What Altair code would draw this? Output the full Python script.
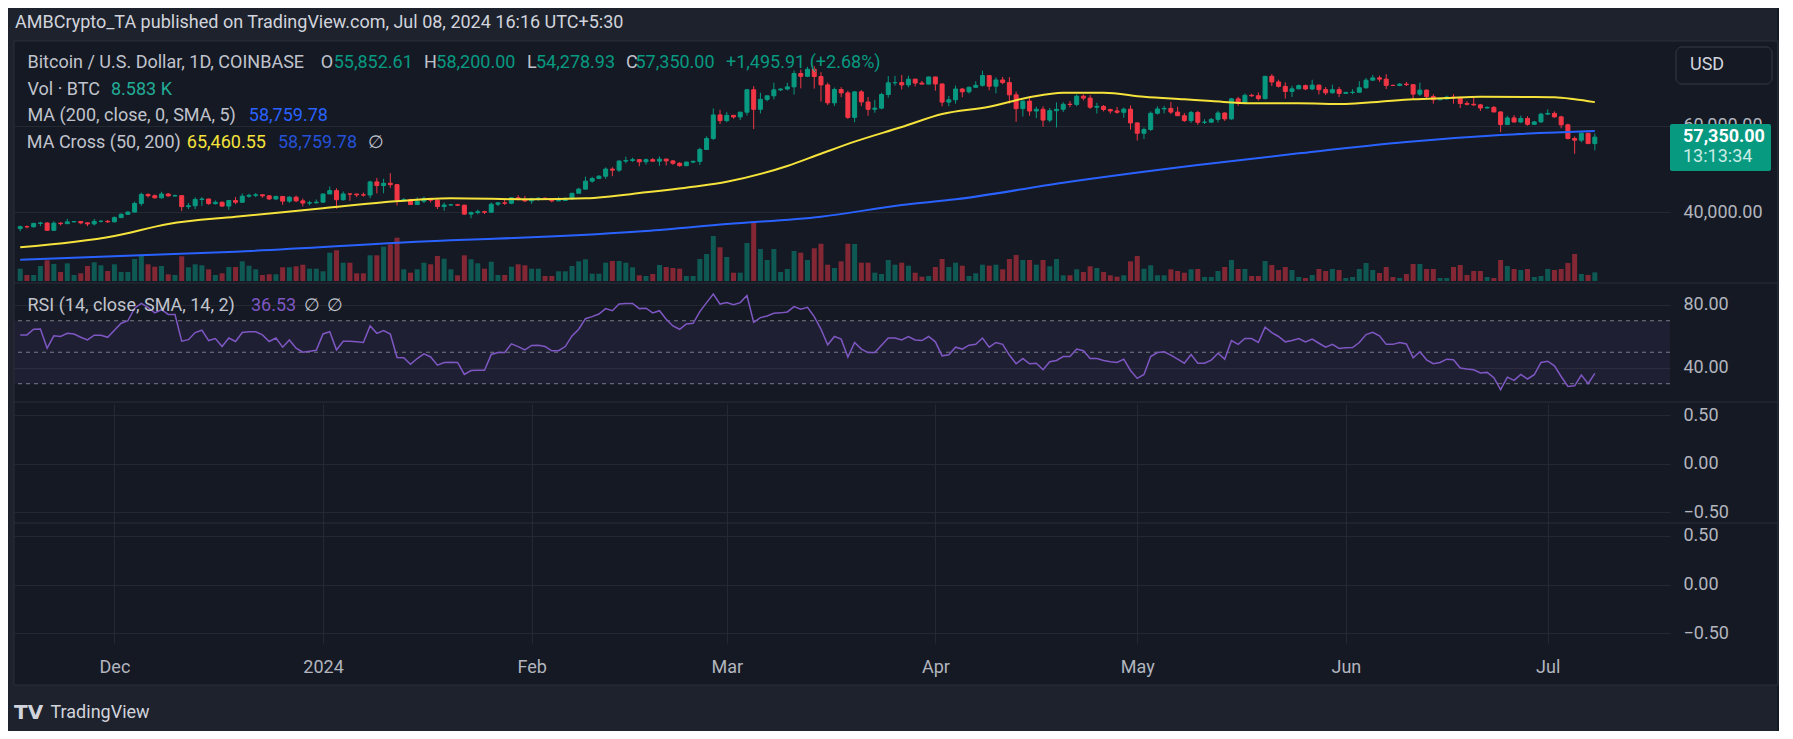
import altair as alt
import numpy as np
import pandas as pd

# ------------------------------------------------------------------ data
START, END = "2023-11-17", "2024-07-08"

OPEN = [
    # Nov 17-30
    36160, 36600, 36570, 37360, 37450, 35760, 37420, 37290, 37720, 37800, 37480, 37240, 37830, 37850,
    # Dec
    37720, 38690, 39470, 39980, 41990, 44080, 43770, 43290, 44170, 43720, 43790, 41240, 41450, 42890, 43020, 41940,
    42260, 41370, 42660, 42260, 43660, 43860, 43990, 43740, 43020, 43610, 42520, 43440, 42580, 42070, 42140,
    # Jan
    42280, 44180, 44950, 42850, 44180, 44160, 43970, 43930, 46970, 46120, 46660, 46340, 42780, 42850, 41730, 42500,
    43150, 42740, 41260, 41620, 41660, 41580, 39510, 39860, 40070, 39950, 41800, 42120, 42030, 43300, 42940,
    # Feb
    42570, 43080, 43190, 43000, 42580, 42660, 43080, 44340, 45300, 47150, 47770, 48290, 49950, 49700, 51800, 51930,
    52130, 51640, 52130, 51780, 52260, 51840, 51300, 50740, 51570, 51730, 54480, 57040, 62500,
    # Mar
    61170, 62400, 62030, 63130, 68330, 63800, 66100, 66930, 68300, 68500, 69000, 72100, 71450, 73080, 71400, 69450,
    65300, 68390, 67600, 61930, 67840, 65500, 63800, 64070, 67230, 69950, 69990, 69450, 70780, 69880, 69640,
    # Apr
    71300, 69680, 65470, 66000, 68500, 67850, 68900, 69360, 71620, 69150, 70600, 70000, 67150, 63950, 65700, 63400,
    63800, 61300, 63480, 63800, 64960, 64930, 66840, 66400, 64290, 64480, 63750, 63420, 63110, 63840,
    # May
    60640, 58250, 59120, 62880, 63880, 64010, 63160, 62310, 61190, 63070, 60790, 60820, 61480, 62940, 61580, 66220,
    65230, 67050, 66940, 66270, 71450, 70140, 69120, 67930, 68540, 69290, 68510, 69400, 68360, 67630, 68350,
    # Jun
    67490, 67710, 67750, 68800, 70550, 71080, 70790, 69340, 69310, 69640, 69510, 67320, 68240, 66760, 66010, 66190,
    66640, 66490, 65150, 64960, 64830, 64100, 64250, 63180, 60270, 61800, 60860, 61680, 60320, 60880,
    # Jul 1-8
    62680, 62850, 62040, 60200, 57030, 56640, 58230, 55850,
]
HIGH = [
    36850, 36850, 37520, 37750, 37650, 37870, 37640, 38420, 37900, 37820, 37600, 38400, 38170, 38150,
    38990, 39700, 40200, 42400, 44490, 44300, 44050, 44700, 44370, 44050, 43800, 42100, 43430, 43420, 43090, 42700,
    42430, 42750, 43480, 44280, 44240, 44400, 44020, 43950, 43800, 43630, 43700, 43800, 43130, 42600, 42900,
    44200, 45900, 45500, 44750, 44350, 44250, 44500, 47250, 47900, 47700, 49000, 46500, 43250, 43080, 43400, 43580,
    43200, 42920, 42200, 41870, 41880, 41680, 40130, 40550, 40270, 42200, 42230, 42830, 43300, 43880, 43740,
    43280, 43480, 43380, 43110, 43520, 43400, 44400, 45600, 48200, 48170, 48580, 50330, 50370, 52000, 52820, 52580,
    52200, 52400, 52500, 52900, 52370, 52000, 51550, 51700, 51950, 54900, 57550, 64000, 63680,
    63150, 62450, 63250, 68550, 69170, 67650, 67000, 69950, 68650, 69950, 72800, 73000, 73650, 73800, 72400, 70000,
    68850, 68950, 68100, 68000, 68250, 66650, 65980, 67650, 71500, 71550, 71750, 71600, 70900, 70350, 71350,
    71300, 69700, 66900, 69300, 68750, 69050, 70300, 72750, 71750, 71200, 71300, 71250, 67900, 65850, 66900, 64400,
    64500, 64100, 65400, 65450, 65700, 67250, 67200, 67100, 65300, 64800, 63950, 64350, 64200, 64700,
    60850, 59600, 63300, 64500, 64600, 65500, 64400, 62950, 63450, 63450, 61500, 61800, 63450, 63100, 66450, 66700,
    67450, 67400, 67700, 71500, 71950, 70650, 70050, 69250, 69550, 69550, 70650, 69550, 68950, 69500, 69000,
    67850, 68450, 70300, 71050, 71750, 71600, 71950, 69550, 69900, 70150, 69550, 69990, 68400, 67300, 66400, 66950,
    67300, 66550, 65700, 66450, 65050, 64500, 64550, 63350, 62300, 62450, 62350, 62200, 61100, 63000,
    63800, 63300, 62300, 60500, 57500, 58500, 58400, 58200,
]
LOW = [
    35550, 36200, 36400, 36720, 35750, 35650, 36900, 37260, 37600, 37160, 36730, 36880, 37550, 37500,
    37620, 38670, 39300, 39980, 41430, 43350, 43100, 43080, 43600, 43580, 40220, 40680, 40680, 41430, 41660, 41700,
    41250, 40520, 41800, 42200, 43300, 43430, 43300, 42770, 42750, 41650, 42100, 42300, 41300, 41530, 41970,
    42180, 44180, 40750, 42630, 42600, 43450, 43580, 43200, 44300, 44350, 45600, 41500, 42440, 41720, 41720, 42050,
    42200, 40680, 40280, 41500, 41450, 39430, 38550, 39480, 39520, 39820, 41400, 41640, 41800, 42690, 42300,
    41880, 42580, 42900, 42250, 42520, 42600, 42800, 44340, 45250, 46800, 47600, 47700, 48300, 49300, 51300, 51600,
    50600, 51000, 51700, 50700, 50800, 50920, 50500, 50600, 51280, 50900, 54450, 56700, 60400,
    60800, 61650, 61320, 62370, 59220, 62850, 65650, 66100, 68000, 68200, 67200, 68650, 71300, 68600, 65600, 64800,
    64550, 66600, 61550, 60800, 64550, 62300, 63000, 63800, 66500, 69300, 68400, 68900, 69100, 69600, 69600,
    68100, 64500, 64500, 65100, 66600, 67450, 68800, 69050, 68200, 67500, 69600, 65100, 60900, 62150, 62300, 61750,
    59750, 60800, 59600, 63200, 64300, 64500, 65850, 63900, 62800, 63300, 62800, 62800, 61800, 59100,
    56550, 56900, 58800, 62600, 62850, 62700, 62250, 60850, 60650, 60200, 60400, 60600, 60750, 61100, 61350, 64600,
    65100, 66650, 65850, 66100, 69200, 68850, 66300, 66650, 68500, 68250, 68250, 67250, 67100, 67450, 66650,
    67400, 67300, 67620, 68550, 70400, 70150, 68500, 69200, 69150, 69200, 66100, 66900, 66300, 65100, 65900, 66050,
    65100, 64100, 64700, 64550, 63400, 63950, 63150, 58500, 60250, 60700, 60600, 60000, 60300, 60650,
    62550, 61900, 59400, 56800, 53500, 56150, 55750, 54280,
]
CLOSE = [
    36600, 36570, 37360, 37450, 35760, 37420, 37290, 37720, 37800, 37480, 37240, 37830, 37850, 37720,
    38690, 39470, 39980, 41990, 44080, 43770, 43290, 44170, 43720, 43790, 41240, 41450, 42890, 43020, 41940, 42260,
    41370, 42660, 42260, 43660, 43860, 43990, 43740, 43020, 43610, 42520, 43440, 42580, 42070, 42140, 42280,
    44180, 44950, 42850, 44180, 44160, 43970, 43930, 46970, 46120, 46660, 46340, 42780, 42850, 41730, 42500, 43150,
    42740, 41260, 41620, 41660, 41580, 39510, 39860, 40070, 39950, 41800, 42120, 42030, 43300, 42940, 42570,
    43080, 43190, 43000, 42580, 42660, 43080, 44340, 45300, 47150, 47770, 48290, 49950, 49700, 51800, 51930, 52130,
    51640, 52130, 51780, 52260, 51840, 51300, 50740, 51570, 51730, 54480, 57040, 62500, 61170,
    62400, 62030, 63130, 68330, 63800, 66100, 66930, 68300, 68500, 69000, 72100, 71450, 73080, 71400, 69450, 65300,
    68390, 67600, 61930, 67840, 65500, 63800, 64070, 67230, 69950, 69990, 69450, 70780, 69880, 69640, 71300,
    69680, 65470, 66000, 68500, 67850, 68900, 69360, 71620, 69150, 70600, 70000, 67150, 63950, 65700, 63400, 63800,
    61300, 63480, 63800, 64960, 64930, 66840, 66400, 64290, 64480, 63750, 63420, 63110, 63840, 60640,
    58250, 59120, 62880, 63880, 64010, 63160, 62310, 61190, 63070, 60790, 60820, 61480, 62940, 61580, 66220, 65230,
    67050, 66940, 66270, 71450, 70140, 69120, 67930, 68540, 69290, 68510, 69400, 68360, 67630, 68350, 67490,
    67710, 67750, 68800, 70550, 71080, 70790, 69340, 69310, 69640, 69510, 67320, 68240, 66760, 66010, 66190, 66640,
    66490, 65150, 64960, 64830, 64100, 64250, 63180, 60270, 61800, 60860, 61680, 60320, 60880, 62680,
    62850, 62040, 60200, 57030, 56640, 58230, 55850, 57350,
]
# daily volume, thousands of BTC
VOLUME_K = [
    12.3, 6.0, 6.0, 15.0, 20.7, 17.0, 9.0, 17.7, 6.0, 7.7, 15.0, 18.7, 15.7, 10.0, 16.7, 9.0, 9.0, 22.0, 25.7, 16.7,
    14.3, 15.0, 6.7, 6.0, 24.7, 13.7, 16.7, 15.7, 11.7, 6.0, 7.7, 14.0, 14.0, 19.7, 15.3, 11.7, 6.0, 6.7, 6.7, 13.7,
    13.7, 14.7, 16.3, 12.3, 12.3, 9.7, 28.3, 30.7, 18.3, 18.3, 7.7, 7.7, 25.7, 25.7, 34.3, 36.7, 43.3, 11.7, 8.3, 11.7,
    18.3, 16.7, 25.0, 22.3, 11.7, 5.7, 25.7, 21.7, 17.7, 12.3, 19.3, 6.0, 6.0, 14.3, 16.7, 15.7, 12.3, 12.3, 5.0, 5.0,
    9.7, 9.7, 15.0, 19.7, 21.7, 7.3, 7.3,
    18.3, 20.0, 20.0, 18.3, 13.7, 5.7, 5.0, 7.0, 16.0, 14.0, 13.0, 12.3, 5.0, 5.0, 22.0, 27.0, 45.0, 33.7, 24.0, 8.3,
    8.3, 38.0, 59.3, 32.0, 21.0, 32.0, 9.0, 12.0, 30.0, 28.3, 21.0, 32.7, 37.3, 16.3, 13.0, 19.7, 37.3, 37.0, 18.3, 18.3,
    8.3, 7.0, 21.0, 16.3, 18.3, 15.3, 8.3, 4.3, 5.0, 14.0, 22.0, 14.0, 18.3, 15.3, 5.0, 7.7, 16.3, 15.3, 16.3, 11.7,
    22.0, 26.0, 21.0, 21.0, 16.3, 21.0, 14.7, 22.0, 5.7, 5.7, 11.7, 9.0, 14.7, 13.0, 9.0, 5.7, 4.3, 5.7, 19.7, 25.0,
    12.3, 15.7, 5.7, 5.7, 11.7, 10.0, 8.3, 11.7,
    12, 4, 4, 10, 14, 21, 12, 12, 5, 5, 20, 16, 11, 14, 11, 4, 3, 6, 12, 10,
    12, 11, 3, 4, 12, 18, 11, 8, 14, 4, 3, 7, 17, 17, 12, 12, 3, 3, 14, 16,
    6, 10, 10, 4, 3, 21, 15, 12, 11, 12, 4, 5, 12, 11, 12, 18, 27, 7, 6, 8.6,
]
RSI = [
    61, 61, 64.6, 64.8, 52.6, 60.4, 60, 62, 61.6, 59.5, 57.8, 60.8, 60.8, 59.5,
    64, 68.4, 70, 78, 81, 78.5, 75, 77, 74, 74, 57, 58, 62.5, 64, 57.4, 58.7, 53.6, 59, 56.8, 62.5, 63, 63, 61, 56.8,
    59, 53.2, 57.8, 52.6, 50, 50.7, 51.3,
    61.6, 63, 51.5, 57, 57, 56.6, 56.2, 66.7, 62, 63.8, 61.6, 46.7, 46.5, 42.4, 46, 49, 47, 41.8, 43.5, 43.7, 43.5,
    35.9, 38.4, 38.6, 38.6, 48.6, 49.8, 49.8, 55.3, 53.6, 51.5,
    54.3, 54.5, 53.6, 50.9, 51, 53.6, 60.4, 64.6, 71.3, 72.6, 74.3, 77.7, 76.4, 80.6, 81, 81, 77.7, 78, 75, 76.4, 71,
    66.7, 64.6, 68, 68.4, 75.8, 81.5, 87, 80.6,
    81.5, 80.2, 81.5, 86, 69, 72, 73, 74.7, 75, 75.6, 79, 77.3, 78.5, 72.6, 64.6, 54.7, 60, 58.3, 46.9, 56.2, 52,
    49.8, 49.8, 54.5, 59, 59, 57.8, 60, 57.8, 57.4, 60,
    56.6, 47.7, 48.4, 53.2, 52, 54.5, 55, 59, 53.2, 56.2, 55, 48.2, 42.7, 46, 42.7, 43, 38.9, 44, 44.8, 47.3, 47.3,
    52, 51, 46, 46, 44.8, 44, 43.5, 45.6, 38.4,
    33.4, 35.9, 47.3, 49.8, 50.3, 48.2, 45.6, 43, 48.6, 43, 43, 45, 49.4, 45.6, 57.4, 55, 58.7, 58.7, 56.2, 65.9,
    62.5, 60, 56.6, 57.4, 58.7, 56.6, 58.3, 55.7, 53.2, 55, 52.4,
    52.8, 53, 56.2, 61.2, 62.7, 60.4, 55, 55, 56.2, 55.3, 46.5, 50.3, 45.2, 42.7, 43.5, 45.6, 45.2, 40, 39.3, 38.9,
    36.8, 37.2, 33.8, 26.2, 34.2, 32.1, 35.9, 33, 35.7, 43.5,
    44.3, 41.4, 34.6, 28.3, 28.7, 35.5, 30, 36.53,
]
MA50_DATES = ["2023-11-17", "2023-12-01", "2023-12-09", "2023-12-19", "2024-01-01", "2024-01-10", "2024-01-20",
              "2024-02-01", "2024-02-09", "2024-02-18", "2024-02-25", "2024-03-01", "2024-03-10", "2024-03-15",
              "2024-03-20", "2024-03-27", "2024-04-02", "2024-04-09", "2024-04-15", "2024-04-20", "2024-04-26",
              "2024-05-02", "2024-05-08", "2024-05-12", "2024-05-18", "2024-05-25", "2024-06-01", "2024-06-06",
              "2024-06-11", "2024-06-16", "2024-06-21", "2024-06-28", "2024-07-02", "2024-07-05", "2024-07-08"]
MA50 = [31820, 34440, 37220, 38910, 40850, 42240, 43200, 42930, 43170, 44560, 45860, 47020, 50660, 53500,
        56300, 59700, 62710, 64400, 66600, 67650, 67650, 66720, 66120, 65720, 65190, 65190, 65030, 65560,
        66120, 66420, 66720, 66650, 66580, 66120, 65460]
MA200_DATES = ["2023-11-17", "2023-12-19", "2024-01-20", "2024-02-01", "2024-02-18", "2024-03-01", "2024-03-15",
               "2024-03-27", "2024-04-04", "2024-04-20", "2024-05-10", "2024-05-25", "2024-06-10", "2024-06-24",
               "2024-07-08"]
MA200 = [28950, 30800, 33450, 34130, 35590, 37220, 38910, 41600, 42940, 46790, 50890, 53600, 56220, 57840, 58760]

RSI_LEVELS = [70, 50, 30]
PRICE_TICKS = [40000, 60000]
RSI_TICKS = [40, 80]
EMPTY_TICKS = [-0.5, 0, 0.5]
MONTHS = [(2023, 12), (2024, 1), (2024, 2), (2024, 3), (2024, 4), (2024, 5), (2024, 6), (2024, 7)]

dates = pd.date_range(START, END, freq="D").strftime("%Y-%m-%d")
df = pd.DataFrame(dict(date=dates, open=OPEN, high=HIGH, low=LOW, close=CLOSE, vol=VOLUME_K, rsi=RSI))
df["dir"] = np.where(df["close"] >= df["open"], "up", "down")
ma50_df = pd.DataFrame(dict(date=MA50_DATES, v=MA50))
ma200_df = pd.DataFrame(dict(date=MA200_DATES, v=MA200))
one = pd.DataFrame({"k": [0]})

# ------------------------------------------------------------------ style
FONT = "Roboto"
FS = 18
BG_OUT = "#1e222d"
BG_IN = "#151924"
GRID = "#242833"
BORDER = "#2a2e39"
TXT = "#d1d4dc"
TXT2 = "#c0c3cc"
AXT = "#b2b5be"
UP, DOWN = "#089981", "#f23645"
YEL, BLUE, BLUE2, PURPLE = "#f5e33b", "#2962ff", "#2451d6", "#7e57c2"
W, H = 1656, 601
RIGHT = 1763  # right edge of canvas, plot coordinates

xs = alt.Scale(type="utc", nice=False, domain=[
    alt.DateTime(year=2023, month=11, date=16, hours=19, minutes=41, utc=True),
    alt.DateTime(year=2024, month=7, date=18, hours=10, minutes=19, utc=True)])
xaxis = alt.Axis(values=[alt.DateTime(year=y, month=m, date=1, utc=True) for y, m in MONTHS],
                 labelExpr="utcmonth(datum.value) == 0 ? utcFormat(datum.value, '%Y') : utcFormat(datum.value, '%b')",
                 title=None, grid=True, labelPadding=24, labelBaseline="middle", labelAlign="center",
                 labelFlush=False, labelOverlap=False)
X = alt.X("date:T", scale=xs, axis=xaxis)

price_s = alt.Scale(domain=[23546, 79397], range=[241, 0], nice=False, zero=False)
vol_s = alt.Scale(domain=[0, 239], range=[239, 0], nice=False)
rsi_s = alt.Scale(domain=[18.4, 93.97], range=[360, 241], nice=False, zero=False)
p3_s = alt.Scale(domain=[-0.613, 0.634], range=[481, 360], nice=False, zero=False)
p4_s = alt.Scale(domain=[-0.603, 0.634], range=[601, 481], nice=False, zero=False)


def raxis(values, **kw):
    return alt.Axis(orient="right", values=values, title=None, grid=True, labelPadding=13,
                    labelAlign="left", labelBaseline="middle", labelOverlap=False, **kw)


dir_scale = alt.Scale(domain=["up", "down"], range=[UP, DOWN])
C = alt.Color("dir:N", scale=dir_scale, legend=None)
S = alt.Stroke("dir:N", scale=dir_scale, legend=None)

base = alt.Chart(df)

band = alt.Chart(pd.DataFrame({"top": [RSI_LEVELS[0]], "bot": [RSI_LEVELS[-1]]})).mark_rect(
    color=PURPLE, opacity=0.1).encode(
    x=alt.value(0), x2=alt.value(W), y=alt.Y("top:Q", scale=rsi_s, axis=None), y2="bot:Q")
rsi_rules = alt.Chart(pd.DataFrame({"lvl": RSI_LEVELS})).mark_rule(
    color="#787b86", strokeDash=[4, 4], strokeWidth=1).encode(y=alt.Y("lvl:Q", scale=rsi_s, axis=None))

vol = base.mark_bar(size=5, opacity=0.5).encode(
    x=X, y=alt.Y("vol:Q", scale=vol_s, axis=None), color=C)
wick = base.mark_rule(strokeWidth=1).encode(
    x=X, y=alt.Y("low:Q", scale=price_s, axis=raxis(PRICE_TICKS, format=",.2f")), y2="high:Q", color=C)
body = base.mark_bar(size=4, strokeWidth=1).encode(
    x=X, y=alt.Y("open:Q", scale=price_s, axis=None), y2="close:Q", color=C, stroke=S)
ma200 = alt.Chart(ma200_df).mark_line(color=BLUE, strokeWidth=2, interpolate="monotone").encode(
    x=X, y=alt.Y("v:Q", scale=price_s, axis=None))
ma50 = alt.Chart(ma50_df).mark_line(color=YEL, strokeWidth=2, interpolate="monotone").encode(
    x=X, y=alt.Y("v:Q", scale=price_s, axis=None))
rsi_line = base.mark_line(color=PURPLE, strokeWidth=1.5).encode(
    x=X, y=alt.Y("rsi:Q", scale=rsi_s, axis=raxis(RSI_TICKS, format=".2f")))

neg_expr = "datum.value < 0 ? '\u2212' + format(-datum.value, '.2f') : format(datum.value, '.2f')"
p3 = alt.Chart(pd.DataFrame({"v": EMPTY_TICKS})).mark_rule(opacity=0).encode(
    y=alt.Y("v:Q", scale=p3_s, axis=raxis(EMPTY_TICKS, labelExpr=neg_expr)))
p4 = alt.Chart(pd.DataFrame({"v": EMPTY_TICKS})).mark_rule(opacity=0).encode(
    y=alt.Y("v:Q", scale=p4_s, axis=raxis(EMPTY_TICKS, labelExpr=neg_expr)))


def rect(x1, x2, y1, y2, **kw):
    return alt.Chart(one).mark_rect(**kw).encode(
        x=alt.value(x1), x2=alt.value(x2), y=alt.value(y1), y2=alt.value(y2))


def hline(y, color=BORDER):
    return alt.Chart(one).mark_rule(color=color, strokeWidth=1).encode(
        x=alt.value(0), x2=alt.value(1764), y=alt.value(y))


def txt(s, px, py, color=TXT2, size=FS, weight="normal", font=FONT):
    return alt.Chart(one).mark_text(text=s, align="left", baseline="middle", font=font, fontSize=size,
                                    fontWeight=weight, color=color).encode(x=alt.value(px), y=alt.value(py))


frame = [
    rect(-6, RIGHT, -34, -1, color=BG_OUT),
    rect(-6, RIGHT, 643, 689, color=BG_OUT),
    rect(-6, 0, -1, 643, color=BG_OUT),
    rect(1764, RIGHT, -1, 643, color=BG_OUT),
    rect(0, 1764, -1, 643, fillOpacity=0, stroke=BORDER, strokeWidth=1),
]
dividers = [hline(241), hline(360), hline(481)]

texts = [
    txt("AMBCrypto_TA published on TradingView.com, Jul 08, 2024 16:16 UTC+5:30", 1, -19, TXT),
    txt("Bitcoin / U.S. Dollar, 1D, COINBASE", 13.5, 21),
    txt("O", 306.7, 21), txt("55,852.61", 319.7, 21, UP),
    txt("H", 410, 21), txt("58,200.00", 422.3, 21, UP),
    txt("L", 513, 21), txt("54,278.93", 522, 21, UP),
    txt("C", 612, 21), txt("57,350.00", 621.5, 21, UP),
    txt("+1,495.91 (+2.68%)", 712, 21, UP),
    txt("Vol \u00b7 BTC", 13.5, 48), txt("8.583 K", 97, 48, "#22ab94"),
    txt("MA (200, close, 0, SMA, 5)", 13.5, 74), txt("58,759.78", 234.8, 74, BLUE),
    txt("MA Cross (50, 200)", 12.8, 100.7), txt("65,460.55", 172.8, 100.7, YEL),
    txt("58,759.78", 264, 100.7, BLUE2), txt("\u2205", 354, 100.7),
    txt("RSI (14, close, SMA, 14, 2)", 13.5, 264), txt("36.53", 237, 264, PURPLE),
    txt("\u2205", 290, 264), txt("\u2205", 313, 264),
    txt("USD", 1676, 23, TXT),
    txt("TV", 0, 671, TXT, size=20, weight="bold", font="DejaVu Sans"),
    txt("TradingView", 36.5, 671, TXT, size=18),
]
boxes = [
    rect(1662, 1758, 5, 42, fillOpacity=0, stroke="#363a45", strokeWidth=1, cornerRadius=6),
    rect(1656, 1757, 82, 129, color=UP, cornerRadius=2),
    txt("57,350.00", 1669, 95, "#ffffff", weight="bold"),
    txt("13:13:34", 1669, 115, "#c9ece5"),
]

layers = [band, rsi_rules, vol, wick, body, ma200, ma50, rsi_line, p3, p4] + dividers + frame + texts + boxes

chart = alt.layer(*layers).resolve_scale(y="independent").properties(
    width=W, height=H, background=BG_IN, padding=0
).configure_view(strokeWidth=0).configure_axis(
    labelFont=FONT, labelFontSize=FS, labelColor=AXT, gridColor=GRID, gridWidth=1,
    domain=False, ticks=False, tickSize=0, zindex=0)

chart.save("out.html", embed_options={"renderer": "svg", "actions": False})
